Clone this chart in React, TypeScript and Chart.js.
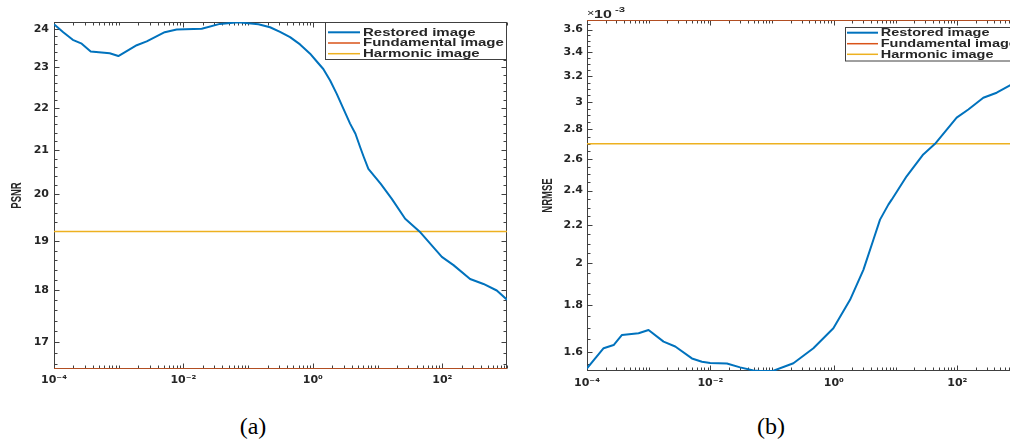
import React, { useEffect, useRef } from 'react';
import { Chart, registerables } from 'chart.js';

Chart.register(...registerables);

const BLUE = '#0072BD';
const ORANGE = '#D95319';
const YELLOW = '#EDB120';
const AXIS = '#404040';
const TEXT = '#262626';

const seriesNames = ['Restored image', 'Fundamental image', 'Harmonic image'];
const xLimits = [1e-4, 1e3];
const xTickValues = [1e-4, 1e-2, 1, 1e2];
const xTickLabels = ['10⁻⁴', '10⁻²', '10⁰', '10²'];

// (a) PSNR
const psnrX = [
  1e-4, 1.39e-4, 1.95e-4, 2.68e-4, 3.69e-4, 7.26e-4, 9.86e-4, 1.9e-3, 2.71e-3, 5.14e-3,
  7.87e-3, 1.92e-2, 3.66e-2, 7.03e-2, 0.144, 0.218, 0.311, 0.444, 0.634, 0.906,
  1.15, 1.45, 1.85, 2.34, 2.96, 3.76, 4.55, 5.37, 6.12, 7.21,
  11.2, 16.6, 26.7, 44.4, 98.4, 149, 269, 433, 695, 1000,
];
const psnrRestored = [
  24.12, 23.91, 23.71, 23.61, 23.41, 23.36, 23.29, 23.57, 23.67, 23.91,
  23.98, 24.0, 24.13, 24.17, 24.12, 24.04, 23.92, 23.78, 23.59, 23.35,
  23.15, 22.96, 22.67, 22.34, 21.98, 21.62, 21.38, 21.07, 20.84, 20.57,
  20.23, 19.9, 19.47, 19.2, 18.67, 18.5, 18.22, 18.12, 17.99, 17.81,
];
const psnrFundamental = 16.5;
const psnrHarmonic = 19.2;
const psnrLimits = [16.5, 24.18];
const psnrTickValues = [17, 18, 19, 20, 21, 22, 23, 24];
const psnrTickLabels = ['17', '18', '19', '20', '21', '22', '23', '24'];

// (b) NRMSE
const nrmseX = [
  1e-4, 1.86e-4, 2.7e-4, 3.69e-4, 6.85e-4, 9.93e-4, 1.74e-3, 2.69e-3, 5.01e-3, 7.28e-3,
  9.91e-3, 1.85e-2, 3.03e-2, 4.98e-2, 6.4e-2, 0.105, 0.221, 0.466, 0.982, 1.83,
  3.01, 4.37, 5.6, 7.64, 8.65, 15.1, 28.1, 43.6, 97.7, 151,
  264, 435, 713, 1000,
];
const nrmseRestored = [
  1.534e-3, 1.614e-3, 1.627e-3, 1.669e-3, 1.676e-3, 1.69e-3, 1.641e-3, 1.621e-3, 1.573e-3, 1.56e-3,
  1.555e-3, 1.553e-3, 1.538e-3, 1.526e-3, 1.524e-3, 1.525e-3, 1.554e-3, 1.614e-3, 1.697e-3, 1.823e-3,
  1.966e-3, 2.121e-3, 2.231e-3, 2.317e-3, 2.346e-3, 2.488e-3, 2.629e-3, 2.7e-3, 2.884e-3, 2.944e-3,
  3.032e-3, 3.071e-3, 3.129e-3, 3.17e-3,
];
const nrmseFundamental = 3.688e-3;
const nrmseHarmonic = 2.7e-3;
const nrmseLimits = [1.524e-3, 3.688e-3];
const nrmseTickValues = [1.6e-3, 1.8e-3, 2e-3, 2.2e-3, 2.4e-3, 2.6e-3, 2.8e-3, 3e-3, 3.2e-3, 3.4e-3, 3.6e-3];
const nrmseTickLabels = ['1.6', '1.8', '2', '2.2', '2.4', '2.6', '2.8', '3', '3.2', '3.4', '3.6'];

const TICK_FONT = { family: '"DejaVu Sans", sans-serif', size: 11, weight: 'bold' as const };
const LABEL_FAMILY = '"Liberation Sans", Arial, sans-serif';

function stretchedText(ctx: CanvasRenderingContext2D, text: string, x: number, y: number, sx: number, font: string, align: CanvasTextAlign = 'left') {
  ctx.save();
  ctx.font = font;
  ctx.fillStyle = TEXT;
  ctx.textBaseline = 'middle';
  ctx.textAlign = align;
  ctx.translate(x, y);
  ctx.scale(sx, 1);
  ctx.fillText(text, 0, 0);
  ctx.restore();
}

type Spec = {
  canvasLeft: number;
  width: number;
  height: number;
  area: { left: number; top: number; right: number; bottom: number };
  xs: number[];
  restored: number[];
  fundamental: number;
  harmonic: number;
  yLimits: number[];
  yTicks: number[];
  yLabels: string[];
  yMinorStep: number;
  yTitle: string;
  titleX: number;
  multiplier: boolean;
  xPad: number;
  yPad: number;
  legend: { x: number; y: number; w: number; h: number; rows: number[]; line: number[]; textX: number; stretch: number };
};

function buildConfig(spec: Spec): any {
  const { area, width, height } = spec;
  const framePlugin = {
    id: 'matlabFrame',
    beforeDatasetsDraw(chart: any) {
      const { ctx, chartArea: a, scales } = chart;
      const x = scales.x;
      const y = scales.y;
      ctx.save();
      ctx.strokeStyle = AXIS;
      ctx.lineWidth = 1;
      const L = Math.round(a.left) + 0.5;
      const R = Math.round(a.right) - 0.5;
      const T = Math.round(a.top) + 0.5;
      const B = Math.round(a.bottom) - 0.5;
      ctx.strokeRect(L, T, R - L, B - T);
      ctx.beginPath();
      for (let e = -4; e <= 3; e++) {
        for (let m = 1; m <= 9; m++) {
          const v = m * Math.pow(10, e);
          if (v > xLimits[1] * 1.0001) break;
          const px = Math.round(x.getPixelForValue(v)) + 0.5;
          const major = m === 1 && xTickValues.some((t) => Math.abs(Math.log10(t) - e) < 1e-6);
          const len = major ? 5 : 3;
          ctx.moveTo(px, B);
          ctx.lineTo(px, B - len);
          ctx.moveTo(px, T);
          ctx.lineTo(px, T + len);
        }
      }
      const [ymin, ymax] = spec.yLimits;
      const k0 = Math.ceil(ymin / spec.yMinorStep - 1e-6);
      const k1 = Math.floor(ymax / spec.yMinorStep + 1e-6);
      for (let k = k0; k <= k1; k++) {
        const v = k * spec.yMinorStep;
        const py = Math.round(y.getPixelForValue(v)) + 0.5;
        const major = spec.yTicks.some((t) => Math.abs(t - v) < spec.yMinorStep * 0.01);
        const len = major ? 5 : 3;
        ctx.moveTo(L, py);
        ctx.lineTo(L + len, py);
        ctx.moveTo(R, py);
        ctx.lineTo(R - len, py);
      }
      ctx.stroke();
      ctx.restore();
    },
    afterDatasetsDraw(chart: any) {
      const { ctx, chartArea: a } = chart;
      const lg = spec.legend;
      ctx.save();
      ctx.fillStyle = '#ffffff';
      ctx.fillRect(lg.x, lg.y, lg.w, lg.h);
      ctx.strokeStyle = AXIS;
      ctx.lineWidth = 1;
      ctx.strokeRect(Math.round(lg.x) + 0.5, Math.round(lg.y) + 0.5, lg.w - 1, lg.h - 1);
      chart.data.datasets.forEach((ds: any, i: number) => {
        const ry = lg.rows[i];
        ctx.strokeStyle = ds.borderColor;
        ctx.lineWidth = ds.borderWidth;
        ctx.beginPath();
        ctx.moveTo(lg.line[0], ry);
        ctx.lineTo(lg.line[1], ry);
        ctx.stroke();
        stretchedText(ctx, ds.label, lg.textX, ry + 0.5, lg.stretch, `bold 10px ${LABEL_FAMILY}`);
      });
      // y-axis title
      ctx.save();
      ctx.font = `bold 9.5px ${LABEL_FAMILY}`;
      ctx.fillStyle = TEXT;
      ctx.textAlign = 'center';
      ctx.textBaseline = 'middle';
      ctx.translate(spec.titleX, (a.top + a.bottom) / 2);
      ctx.rotate(-Math.PI / 2);
      ctx.scale(1, 1.5);
      ctx.fillText(spec.yTitle, 0, 0);
      ctx.restore();
      if (spec.multiplier) {
        const x0 = a.left;
        stretchedText(ctx, '×', x0, 14, 1.4, `9px ${LABEL_FAMILY}`);
        stretchedText(ctx, '10', x0 + 7, 15, 1.6, `bold 10px ${LABEL_FAMILY}`);
        stretchedText(ctx, '-3', x0 + 28, 9.5, 1.5, `bold 7.5px ${LABEL_FAMILY}`);
      }
      ctx.restore();
    },
  };

  return {
    type: 'line',
    data: {
      datasets: [
        {
          label: seriesNames[0],
          data: spec.xs.map((xv, i) => ({ x: xv, y: spec.restored[i] })),
          borderColor: BLUE,
          borderWidth: 2,
          pointRadius: 0,
          tension: 0,
          borderJoinStyle: 'round',
        },
        {
          label: seriesNames[1],
          data: [
            { x: xLimits[0], y: spec.fundamental },
            { x: xLimits[1], y: spec.fundamental },
          ],
          borderColor: ORANGE,
          borderWidth: 1.5,
          pointRadius: 0,
        },
        {
          label: seriesNames[2],
          data: [
            { x: xLimits[0], y: spec.harmonic },
            { x: xLimits[1], y: spec.harmonic },
          ],
          borderColor: YELLOW,
          borderWidth: 1.5,
          pointRadius: 0,
        },
      ],
    },
    options: {
      animation: false,
      responsive: false,
      devicePixelRatio: 1,
      events: [],
      layout: { padding: { left: 0, top: area.top, right: width - area.right, bottom: 0 } },
      plugins: { legend: { display: false }, tooltip: { enabled: false }, title: { display: false } },
      scales: {
        x: {
          type: 'logarithmic',
          position: 'bottom',
          min: xLimits[0],
          max: xLimits[1],
          bounds: 'data',
          grid: { display: false, drawTicks: false },
          border: { display: false },
          afterBuildTicks: (s: any) => {
            s.ticks = xTickValues.map((v) => ({ value: v }));
          },
          afterFit: (s: any) => {
            s.height = height - area.bottom;
          },
          ticks: {
            autoSkip: false,
            maxRotation: 0,
            minRotation: 0,
            padding: spec.xPad,
            color: TEXT,
            font: TICK_FONT,
            callback: (_v: any, i: number) => xTickLabels[i],
          },
        },
        y: {
          type: 'logarithmic',
          position: 'left',
          min: spec.yLimits[0],
          max: spec.yLimits[1],
          bounds: 'data',
          grid: { display: false, drawTicks: false },
          border: { display: false },
          afterBuildTicks: (s: any) => {
            s.ticks = spec.yTicks.map((v) => ({ value: v }));
          },
          afterFit: (s: any) => {
            s.width = area.left;
          },
          ticks: {
            autoSkip: false,
            padding: spec.yPad,
            color: TEXT,
            font: TICK_FONT,
            callback: (_v: any, i: number) => spec.yLabels[i],
          },
        },
      },
    },
    plugins: [framePlugin],
  };
}

const leftSpec: Spec = {
  canvasLeft: 0,
  width: 520,
  height: 400,
  area: { left: 54, top: 22, right: 507, bottom: 369 },
  xs: psnrX,
  restored: psnrRestored,
  fundamental: psnrFundamental,
  harmonic: psnrHarmonic,
  yLimits: psnrLimits,
  yTicks: psnrTickValues,
  yLabels: psnrTickLabels,
  yMinorStep: 0.2,
  yTitle: 'PSNR',
  titleX: 17,
  multiplier: false,
  xPad: 5,
  yPad: 5,
  legend: { x: 325, y: 22, w: 182, h: 38, rows: [32.3, 43, 53.7], line: [328, 360], textX: 363, stretch: 1.5 },
};

const rightSpec: Spec = {
  canvasLeft: 520,
  width: 520,
  height: 400,
  area: { left: 67, top: 20, right: 499, bottom: 371 },
  xs: nrmseX,
  restored: nrmseRestored,
  fundamental: nrmseFundamental,
  harmonic: nrmseHarmonic,
  yLimits: nrmseLimits,
  yTicks: nrmseTickValues,
  yLabels: nrmseTickLabels,
  yMinorStep: 0.05e-3,
  yTitle: 'NRMSE',
  titleX: 28,
  multiplier: true,
  xPad: 6,
  yPad: 4,
  legend: { x: 325, y: 26.5, w: 182, h: 34.5, rows: [32.7, 43.7, 54.3], line: [327, 358], textX: 360.7, stretch: 1.45 },
};

function MatlabChart({ spec }: { spec: Spec }) {
  const ref = useRef<HTMLCanvasElement>(null);
  useEffect(() => {
    if (!ref.current) return;
    const chart = new Chart(ref.current, buildConfig(spec));
    return () => chart.destroy();
  }, [spec]);
  return (
    <canvas
      ref={ref}
      width={spec.width}
      height={spec.height}
      style={{ position: 'absolute', left: spec.canvasLeft, top: 0, width: spec.width, height: spec.height, display: 'block' }}
    />
  );
}

const captionStyle: React.CSSProperties = {
  position: 'absolute',
  top: 412,
  transform: 'translateX(-50%)',
  font: '24px "Liberation Serif", "Times New Roman", serif',
  lineHeight: '28px',
  color: '#000',
  whiteSpace: 'nowrap',
};

export default function App() {
  return (
    <div
      style={{
        position: 'fixed',
        left: 0,
        top: 0,
        width: 1010,
        height: 443,
        overflow: 'hidden',
        background: '#ffffff',
      }}
    >
      <MatlabChart spec={leftSpec} />
      <MatlabChart spec={rightSpec} />
      <div style={{ ...captionStyle, left: 253 }}>(a)</div>
      <div style={{ ...captionStyle, left: 771 }}>(b)</div>
    </div>
  );
}
